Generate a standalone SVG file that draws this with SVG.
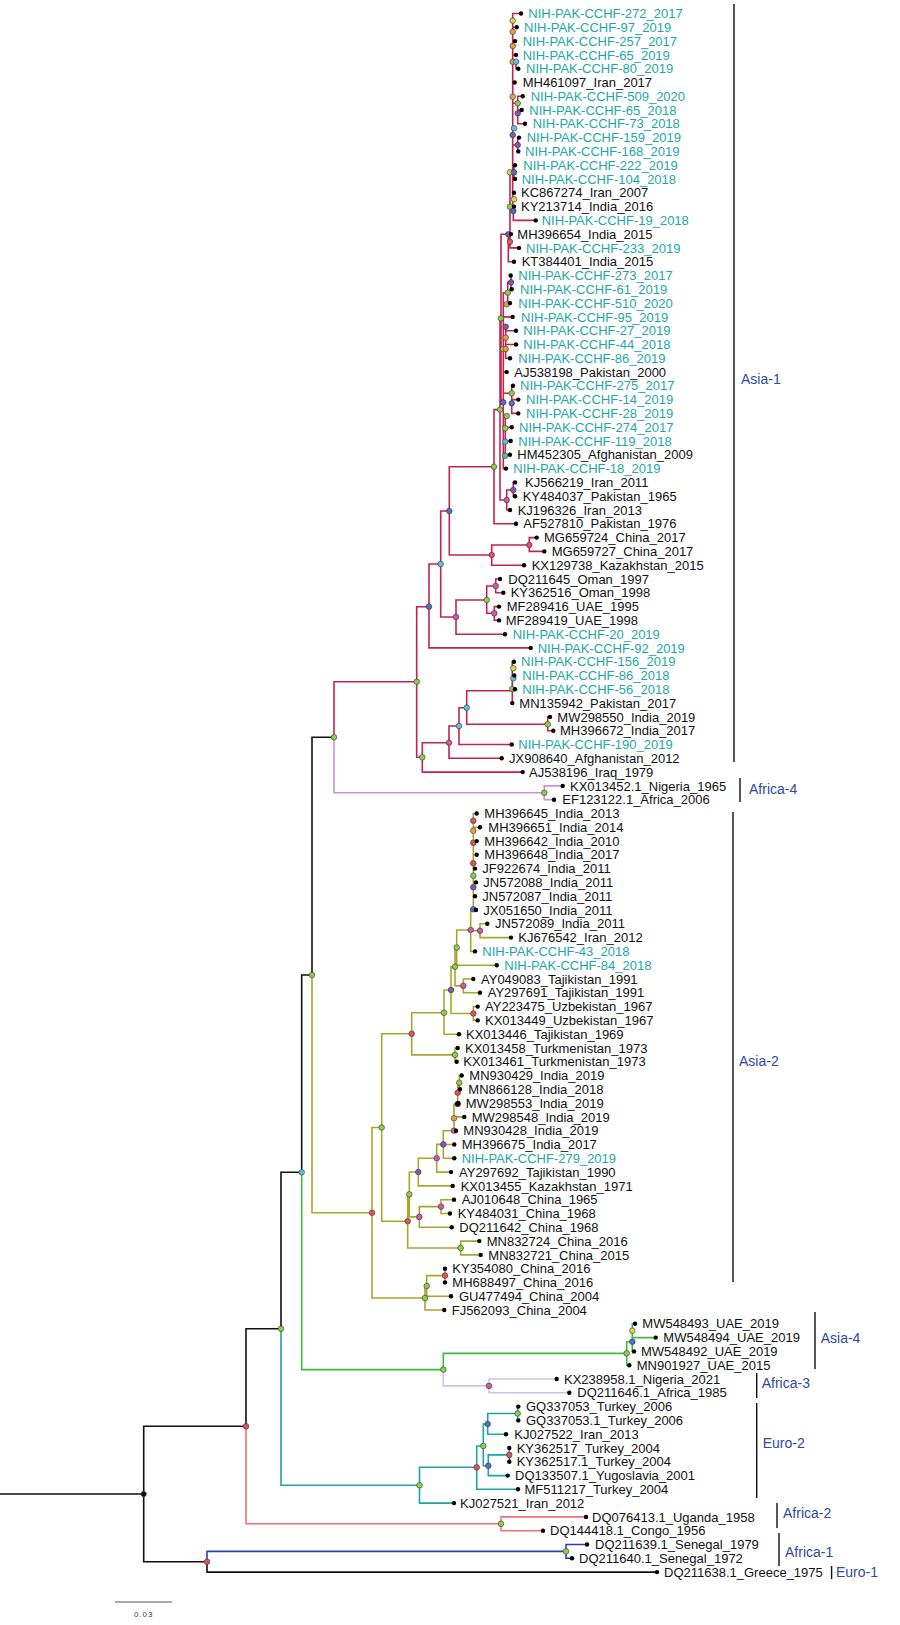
<svg xmlns="http://www.w3.org/2000/svg" width="900" height="1625" viewBox="0 0 900 1625">
<style>
.e{fill:none;stroke-width:1.6;stroke-linecap:square}
.k{stroke:#111}.cr{stroke:#c0254f}.ol{stroke:#a9a72b}.gr{stroke:#3dbd3d}.tl{stroke:#1fa3a3}.sa{stroke:#f27272}.bl{stroke:#2c3fb0}.vi{stroke:#cf8fd8}.lv{stroke:#c9c5ee}
.lf{fill:#000}
.n{stroke:#333;stroke-width:0.6}
.ny{fill:#d4d84a}.no{fill:#e0a050}.np{fill:#7a5cb5}.ng{fill:#8ccf4a}.nc{fill:#58c4e4}.nm{fill:#d05aa5}.nr{fill:#e5505f}.nb{fill:#5070c8}.nt{fill:#46c4a0}.nk{fill:#111}
text{font-family:"Liberation Sans",Arial,sans-serif}
.t{font-size:13px;fill:#111}.c{fill:#1ea8a3}
.lab{font-size:14px;fill:#2f4a9c}
.bar{stroke:#111;stroke-width:1.4}
</style>
<rect width="900" height="1625" fill="#fff"/>
<g id="connectors">
<path class="e k" d="M0 1494H143.7M143.7 1426.3V1561.75M143.7 1426.3H246M143.7 1561.75H207M207 1561.75V1572.1H657M246 1426.3V1328.75H281M281 1328.75V1172.3H301.7M301.7 1172.3V975H312M312 975V737.25H334"/>
<path class="e bl" d="M207 1561.75V1551.4H566M566 1544.5V1558.3M566 1544.5H587M566 1558.3H572"/>
<path class="e sa" d="M246 1426.3V1523.8H501M501 1516.9V1530.7M501 1516.9H586M501 1530.7H543"/>
<path class="e tl" d="M281 1328.75V1485.2H419.5M419.5 1467.3V1503.1M419.5 1467.3H476.7M419.5 1503.1H454M476.7 1446V1489.3M476.7 1446H483.3M476.7 1489.3H518M483.3 1424V1465.7M483.3 1424H487.7M483.3 1465.7H488.3M487.7 1413.5V1434.2M487.7 1413.5H517.7M487.7 1434.2H506M517.7 1406.6V1420.4M517.7 1406.6H518.3M517.7 1420.4H518.3M488.3 1454.9V1475.6M488.3 1454.9H509.3M488.3 1475.6H507.7M509.3 1448V1461.8"/>
<path class="e gr" d="M301.7 1172.3V1369.6H443.3M443.3 1369.6V1353.4H626.7M626.7 1341.7V1365.2M626.7 1341.7H632.3M626.7 1365.2H629.3M632.3 1323.8V1351.4M632.3 1323.8H635M632.3 1337.6H655.7M632.3 1351.4H634"/>
<path class="e lv" d="M443.3 1369.6V1385.9H489M489 1379V1392.8M489 1379H556.7M489 1392.8H569.3"/>
<path class="e vi" d="M334 737.25V792.8H544.3M544.3 785.9V799.7M544.3 785.9H562.7M544.3 799.7H554"/>
<path class="e cr" d="M334 737.25V681.7H416.7
M512.7 13.5V211M512.7 13.5H521M512.7 27.3H516.7M512.7 41.1H515M512.7 54.9H516M512.7 61.7H516V68.7H518.3M512.7 82.5H514.7M512.7 103.3H517.7M517.7 96.2V123.8M517.7 96.2H522.7M517.7 110H521.7M517.7 123.8H525M512.7 145H517.7M517.7 137.6V151.4M517.7 137.6H519M517.7 151.4H518.3M512.7 172.3H514M514 165.2V179M514 165.2H515M514 179H515M512.7 192.8H514M512.7 206.6H514M513.3 211V220.4H535.7M510 172.3V241.7M501 234.3H510M510 234.1H511M510 241.7V247.9H519M508.3 234.3V261.7H514
M501 234.3V404H503.3M503.3 292.7V468.6M503.3 292.7H507.7M507.7 282.3V303.1M507.7 282.3H511M511 275.5V289.3M511 289.3H511.7M507.7 303.1H510M503.3 316.9H512.7M503.3 326.7H505.7M505.7 326.7V358.3M505.7 330.7H516M505.7 344.5H516M505.7 358.3H510M503.3 372.1H506.7M503.3 393.3H511.7M511.7 385.8V413.4M511.7 385.8H513M511.7 399.6H518.3M511.7 413.4H518.3M503.3 428.3H505.3M505.3 416V454.8M505.3 427.2H511.7M505.3 441H510.7M505.3 454.8H510M503.3 468.6H506
M500 318.3V500M500 318.3H501M500 500H506.7M506.7 490V510M506.7 490H513.3M513.3 482.4V496.2M513.3 482.4H515M513.3 496.2H515M506.7 510H510
M494 409.6V523.8M494 409.6H500M494 523.8H516
M449.3 466.7V555M449.3 466.7H494M449.3 555H491.7
M491.7 545V565.2M491.7 545H529.3M529.3 537.6V551.4M529.3 537.6H536.7M529.3 551.4H544.3M491.7 565.2H524
M440.7 511V617M440.7 511H449.3M440.7 617H456
M456 600V634.2M456 600H486.7M456 634.2H505
M486.7 586V613.3M486.7 586H495.7M486.7 613.3H494.3
M495.7 579V592.8M495.7 579H500M495.7 592.8H503.3
M494.3 606.6V620.4M494.3 606.6H499M494.3 620.4H499
M429 564V647.9M429 564H440.7M429 647.9H530.7
M416.7 606.7V757.3M416.7 606.7H429M416.7 757.3H422.3
M422.3 742.7V772.1M422.3 742.7H449M422.3 772.1H522.7
M449 726V758.3M449 726H459M449 758.3H501.7
M459 707.7V744.5M459 707.7H466.7M459 744.5H511.7
M466.7 690.7V724.3M466.7 690.7H512.3M466.7 724.3H547.7
M547.7 716.9V730.7M547.7 716.9H550M547.7 730.7H553.3
M512.3 661.7V703.1M512.3 661.7H514M512.3 675.5H514.3M512.3 689.3H515"/>
<path class="e ol" d="M312 975V1212.75H372M372 1127.5V1298M372 1127.5H381.7M372 1298H425
M381.7 1033.8V1221.2M381.7 1033.8H411.7M381.7 1221.2H407.7
M411.7 1012.7V1054.9M411.7 1012.7H444M411.7 1054.9H455M455 1048V1061.7M455 1048H457.7M455 1061.7H456.7
M444 990V1034.2M444 990H451M444 1034.2H459
M451 966.7V1013.5M451 966.7H455M451 1013.5H473.3M473.3 1006.6V1020.4M473.3 1006.6H477.7M473.3 1020.4H477.7
M455 947.5V985.9M455 947.5H456.7M455 985.9H463.3M463.3 979V992.8M463.3 979H473.3M463.3 992.8H480
M456.7 930V965.2M456.7 930H470.7M456.7 965.2H496.7
M470.7 909.3V951.4M470.7 909.3H473.3M470.7 930.7H480M470.7 951.4H475M480 923.8V937.6M480 923.8H487.3M480 937.6H511
M473.3 813.5V909.3M473.3 813.5H476.7M473.3 827.3H480M473.3 841.1H476.7M473.3 854.8H476.7M473.3 868.6H475M473.3 882.4H476M473.3 896.2H475M473.3 910H476
M407.7 1194.4V1248M407.7 1194.4H409.3M407.7 1248H460.7M460.7 1241.1V1254.9M460.7 1241.1H479.3M460.7 1254.9H480.7
M409.3 1172V1216.9M409.3 1172H418.3M409.3 1216.9H419.3
M419.3 1206.6V1227.3M419.3 1206.6H441M419.3 1227.3H451.7M441 1199.7V1213.5M441 1199.7H454M441 1213.5H450
M418.3 1158.2V1185.9M418.3 1158.2H436.7M418.3 1185.9H452.7
M436.7 1144.4V1172.1M436.7 1144.4H443.3M436.7 1172.1H451
M443.3 1130.7V1158.3M443.3 1130.7H454M443.3 1144.5H454.3M443.3 1158.3H454.3
M454 1104V1130.7M454 1104H457.7M454 1116.9H464.3M454 1130.7H456
M457.7 1082.7V1104M457.7 1082.7H459.3M457.7 1103.1H458.3M459.3 1075.5V1089.3M459.3 1075.5H461.7M459.3 1089.3H460
M425 1286V1310M425 1286H426.7M425 1310H444.3M426.7 1275.6V1296.2M426.7 1275.6H445M426.7 1296.2H451M445 1268.7V1282.4"/>
</g>
<g id="internal-nodes" class="n">
<circle class="ny" cx="512.7" cy="20.7" r="2.8"/><circle class="no" cx="512.7" cy="31.7" r="2.8"/><circle class="no" cx="512.7" cy="46" r="2.8"/><circle class="no" cx="512.7" cy="61.7" r="2.8"/><circle class="nc" cx="516" cy="61.7" r="2.8"/><circle class="no" cx="512.7" cy="96.7" r="2.8"/><circle class="ng" cx="517.7" cy="103.3" r="2.8"/><circle class="np" cx="517.7" cy="113.3" r="2.8"/><circle class="nc" cx="514" cy="128.3" r="2.8"/><circle class="np" cx="512.7" cy="135" r="2.8"/><circle class="np" cx="517.7" cy="145" r="2.8"/><circle class="ny" cx="510" cy="172.3" r="2.8"/><circle class="nb" cx="514" cy="172.3" r="2.8"/><circle class="ny" cx="514" cy="199.3" r="2.8"/><circle class="ng" cx="510" cy="206.7" r="2.8"/><circle class="nb" cx="513.3" cy="211" r="2.8"/><circle class="np" cx="508.3" cy="234.3" r="2.8"/><circle class="nr" cx="510" cy="241.7" r="2.8"/>
<circle class="np" cx="511" cy="282.3" r="2.8"/><circle class="ng" cx="507.7" cy="292.7" r="2.8"/><circle class="no" cx="506.7" cy="304.3" r="2.8"/><circle class="ng" cx="501" cy="318.3" r="2.8"/><circle class="np" cx="505.7" cy="326.7" r="2.8"/><circle class="no" cx="505.7" cy="337.7" r="2.8"/><circle class="ny" cx="503.3" cy="349" r="2.8"/><circle class="no" cx="505.7" cy="349" r="2.8"/><circle class="ng" cx="511.7" cy="393.3" r="2.8"/><circle class="nb" cx="503.3" cy="402.3" r="2.8"/><circle class="nb" cx="511.7" cy="403.3" r="2.8"/>
<circle class="ng" cx="500" cy="409.6" r="2.8"/><circle class="ng" cx="506.7" cy="416" r="2.8"/><circle class="ng" cx="505.3" cy="428.3" r="2.8"/><circle class="nc" cx="505.3" cy="441.7" r="2.8"/><circle class="nt" cx="505" cy="455.7" r="2.8"/>
<circle class="ng" cx="494" cy="466.7" r="2.8"/><circle class="np" cx="513.3" cy="490" r="2.8"/><circle class="nm" cx="506.7" cy="500" r="2.8"/><circle class="nb" cx="449.3" cy="511" r="2.8"/>
<circle class="nr" cx="529.3" cy="545" r="2.8"/><circle class="nr" cx="491.7" cy="555" r="2.8"/><circle class="nc" cx="440.7" cy="564" r="2.8"/><circle class="nm" cx="495.7" cy="586" r="2.8"/><circle class="ng" cx="486.7" cy="600" r="2.8"/><circle class="nm" cx="494.3" cy="613.3" r="2.8"/><circle class="nm" cx="456" cy="617" r="2.8"/><circle class="nb" cx="429" cy="606.7" r="2.8"/>
<circle class="ny" cx="513.3" cy="668.3" r="2.8"/><circle class="nc" cx="513.3" cy="678.3" r="2.8"/><circle class="ng" cx="512.3" cy="689" r="2.8"/><circle class="ng" cx="416.7" cy="681.7" r="2.8"/><circle class="nc" cx="466.7" cy="707.7" r="2.8"/><circle class="ng" cx="547.7" cy="724.3" r="2.8"/><circle class="nc" cx="459" cy="726" r="2.8"/><circle class="nm" cx="449" cy="742.7" r="2.8"/><circle class="ng" cx="422.3" cy="757.3" r="2.8"/>
<circle class="ng" cx="334" cy="737.25" r="2.8"/><circle class="ng" cx="544.3" cy="792.8" r="2.8"/>
<circle class="nr" cx="473.3" cy="820.7" r="2.8"/><circle class="no" cx="473.3" cy="830.7" r="2.8"/><circle class="nr" cx="473.3" cy="842.7" r="2.8"/><circle class="nr" cx="473.3" cy="863.3" r="2.8"/><circle class="ng" cx="473.3" cy="875.7" r="2.8"/><circle class="np" cx="473.3" cy="887.3" r="2.8"/><circle class="nb" cx="473.3" cy="909.3" r="2.8"/><circle class="nm" cx="470.7" cy="930" r="2.8"/><circle class="nm" cx="480" cy="930.7" r="2.8"/><circle class="ng" cx="456.7" cy="947.5" r="2.8"/><circle class="ng" cx="455" cy="966.7" r="2.8"/><circle class="nm" cx="463.3" cy="985.9" r="2.8"/><circle class="np" cx="451" cy="990" r="2.8"/><circle class="nr" cx="473.3" cy="1013.5" r="2.8"/><circle class="ng" cx="444" cy="1012.7" r="2.8"/><circle class="nr" cx="411.7" cy="1033.8" r="2.8"/><circle class="ng" cx="455" cy="1054.9" r="2.8"/>
<circle class="ng" cx="459.3" cy="1082.7" r="2.8"/><circle class="nr" cx="457.7" cy="1092.7" r="2.8"/><circle class="nk" cx="457.7" cy="1104" r="2.8"/><circle class="no" cx="454" cy="1118.3" r="2.8"/><circle class="nm" cx="454" cy="1130.7" r="2.8"/><circle class="np" cx="443.3" cy="1144.4" r="2.8"/><circle class="nm" cx="436.7" cy="1158.2" r="2.8"/><circle class="np" cx="418.3" cy="1172" r="2.8"/><circle class="ng" cx="409.3" cy="1194.4" r="2.8"/><circle class="nm" cx="441" cy="1206.6" r="2.8"/><circle class="nm" cx="419.3" cy="1216.9" r="2.8"/><circle class="nr" cx="407.7" cy="1221.2" r="2.8"/><circle class="ng" cx="460.7" cy="1248" r="2.8"/>
<circle class="nr" cx="445" cy="1275.6" r="2.8"/><circle class="ng" cx="426.7" cy="1286" r="2.8"/><circle class="ng" cx="425" cy="1298" r="2.8"/>
<circle class="ng" cx="381.7" cy="1127.5" r="2.8"/><circle class="nr" cx="372" cy="1212.75" r="2.8"/><circle class="ng" cx="312" cy="975" r="2.8"/>
<circle class="ny" cx="632.3" cy="1330.7" r="2.8"/><circle class="nb" cx="632.3" cy="1341.7" r="2.8"/><circle class="ng" cx="626.7" cy="1353.4" r="2.8"/><circle class="ng" cx="443.3" cy="1369.6" r="2.8"/><circle class="nm" cx="489" cy="1385.9" r="2.8"/>
<circle class="ng" cx="517.7" cy="1413.5" r="2.8"/><circle class="nb" cx="487.7" cy="1424" r="2.8"/><circle class="ng" cx="483.3" cy="1446" r="2.8"/><circle class="nr" cx="509.3" cy="1454.9" r="2.8"/><circle class="nb" cx="488.3" cy="1465.7" r="2.8"/><circle class="nr" cx="476.7" cy="1467.3" r="2.8"/><circle class="ng" cx="419.5" cy="1485.2" r="2.8"/>
<circle class="nc" cx="301.7" cy="1172.3" r="2.8"/><circle class="ng" cx="281" cy="1328.75" r="2.8"/><circle class="nr" cx="246" cy="1426.3" r="2.8"/><circle class="nk" cx="143.7" cy="1494" r="2.6"/><circle class="nr" cx="207" cy="1561.75" r="2.8"/><circle class="ng" cx="501" cy="1523.8" r="2.8"/><circle class="ng" cx="566" cy="1551.4" r="2.8"/>
</g>
<g id="leaves">
<g id="L1"><circle class="lf" cx="521" cy="13.5" r="2.2"/><text class="t c" x="528.3" y="18.1">NIH-PAK-CCHF-272_2017</text></g>
<g id="L2"><circle class="lf" cx="516.7" cy="27.3" r="2.2"/><text class="t c" x="524" y="31.9">NIH-PAK-CCHF-97_2019</text></g>
<g id="L3"><circle class="lf" cx="515" cy="41.1" r="2.2"/><text class="t c" x="522.7" y="45.7">NIH-PAK-CCHF-257_2017</text></g>
<g id="L4"><circle class="lf" cx="516" cy="54.9" r="2.2"/><text class="t c" x="522.7" y="59.5">NIH-PAK-CCHF-65_2019</text></g>
<g id="L5"><circle class="lf" cx="518.3" cy="68.7" r="2.2"/><text class="t c" x="526" y="73.3">NIH-PAK-CCHF-80_2019</text></g>
<g id="L6"><circle class="lf" cx="514.7" cy="82.5" r="2.2"/><text class="t" x="522.7" y="87.1">MH461097_Iran_2017</text></g>
<g id="L7"><circle class="lf" cx="522.7" cy="96.2" r="2.2"/><text class="t c" x="530.7" y="100.8">NIH-PAK-CCHF-509_2020</text></g>
<g id="L8"><circle class="lf" cx="521.7" cy="110" r="2.2"/><text class="t c" x="529.3" y="114.6">NIH-PAK-CCHF-65_2018</text></g>
<g id="L9"><circle class="lf" cx="525" cy="123.8" r="2.2"/><text class="t c" x="532.7" y="128.4">NIH-PAK-CCHF-73_2018</text></g>
<g id="L10"><circle class="lf" cx="519" cy="137.6" r="2.2"/><text class="t c" x="526.7" y="142.2">NIH-PAK-CCHF-159_2019</text></g>
<g id="L11"><circle class="lf" cx="518.3" cy="151.4" r="2.2"/><text class="t c" x="525" y="156">NIH-PAK-CCHF-168_2019</text></g>
<g id="L12"><circle class="lf" cx="515" cy="165.2" r="2.2"/><text class="t c" x="523.3" y="169.8">NIH-PAK-CCHF-222_2019</text></g>
<g id="L13"><circle class="lf" cx="515" cy="179" r="2.2"/><text class="t c" x="521.7" y="183.6">NIH-PAK-CCHF-104_2018</text></g>
<g id="L14"><circle class="lf" cx="514" cy="192.8" r="2.2"/><text class="t" x="521" y="197.4">KC867274_Iran_2007</text></g>
<g id="L15"><circle class="lf" cx="514" cy="206.6" r="2.2"/><text class="t" x="521" y="211.2">KY213714_India_2016</text></g>
<g id="L16"><circle class="lf" cx="535.7" cy="220.4" r="2.2"/><text class="t c" x="541.7" y="225">NIH-PAK-CCHF-19_2018</text></g>
<g id="L17"><circle class="lf" cx="511" cy="234.1" r="2.2"/><text class="t" x="517.3" y="238.7">MH396654_India_2015</text></g>
<g id="L18"><circle class="lf" cx="519" cy="247.9" r="2.2"/><text class="t c" x="526" y="252.5">NIH-PAK-CCHF-233_2019</text></g>
<g id="L19"><circle class="lf" cx="514" cy="261.7" r="2.2"/><text class="t" x="521.7" y="266.3">KT384401_India_2015</text></g>
<g id="L20"><circle class="lf" cx="510.7" cy="275.5" r="2.2"/><text class="t c" x="518.3" y="280.1">NIH-PAK-CCHF-273_2017</text></g>
<g id="L21"><circle class="lf" cx="511.7" cy="289.3" r="2.2"/><text class="t c" x="520" y="293.9">NIH-PAK-CCHF-61_2019</text></g>
<g id="L22"><circle class="lf" cx="510" cy="303.1" r="2.2"/><text class="t c" x="518.3" y="307.7">NIH-PAK-CCHF-510_2020</text></g>
<g id="L23"><circle class="lf" cx="512.7" cy="316.9" r="2.2"/><text class="t c" x="521" y="321.5">NIH-PAK-CCHF-95_2019</text></g>
<g id="L24"><circle class="lf" cx="516" cy="330.7" r="2.2"/><text class="t c" x="523.3" y="335.3">NIH-PAK-CCHF-27_2019</text></g>
<g id="L25"><circle class="lf" cx="516" cy="344.5" r="2.2"/><text class="t c" x="523.3" y="349.1">NIH-PAK-CCHF-44_2018</text></g>
<g id="L26"><circle class="lf" cx="510" cy="358.3" r="2.2"/><text class="t c" x="518.3" y="362.9">NIH-PAK-CCHF-86_2019</text></g>
<g id="L27"><circle class="lf" cx="506.7" cy="372.1" r="2.2"/><text class="t" x="514.3" y="376.7">AJ538198_Pakistan_2000</text></g>
<g id="L28"><circle class="lf" cx="513" cy="385.8" r="2.2"/><text class="t c" x="520" y="390.4">NIH-PAK-CCHF-275_2017</text></g>
<g id="L29"><circle class="lf" cx="518.3" cy="399.6" r="2.2"/><text class="t c" x="526" y="404.2">NIH-PAK-CCHF-14_2019</text></g>
<g id="L30"><circle class="lf" cx="518.3" cy="413.4" r="2.2"/><text class="t c" x="526" y="418">NIH-PAK-CCHF-28_2019</text></g>
<g id="L31"><circle class="lf" cx="511.7" cy="427.2" r="2.2"/><text class="t c" x="519" y="431.8">NIH-PAK-CCHF-274_2017</text></g>
<g id="L32"><circle class="lf" cx="510.7" cy="441" r="2.2"/><text class="t c" x="518.3" y="445.6">NIH-PAK-CCHF-119_2018</text></g>
<g id="L33"><circle class="lf" cx="510" cy="454.8" r="2.2"/><text class="t" x="517.3" y="459.4">HM452305_Afghanistan_2009</text></g>
<g id="L34"><circle class="lf" cx="506" cy="468.6" r="2.2"/><text class="t c" x="513.3" y="473.2">NIH-PAK-CCHF-18_2019</text></g>
<g id="L35"><circle class="lf" cx="515" cy="482.4" r="2.2"/><text class="t" x="525" y="487">KJ566219_Iran_2011</text></g>
<g id="L36"><circle class="lf" cx="515" cy="496.2" r="2.2"/><text class="t" x="522.7" y="500.8">KY484037_Pakistan_1965</text></g>
<g id="L37"><circle class="lf" cx="510" cy="510" r="2.2"/><text class="t" x="517.7" y="514.6">KJ196326_Iran_2013</text></g>
<g id="L38"><circle class="lf" cx="516" cy="523.8" r="2.2"/><text class="t" x="523.3" y="528.4">AF527810_Pakistan_1976</text></g>
<g id="L39"><circle class="lf" cx="536.7" cy="537.6" r="2.2"/><text class="t" x="544" y="542.2">MG659724_China_2017</text></g>
<g id="L40"><circle class="lf" cx="544.3" cy="551.4" r="2.2"/><text class="t" x="551.7" y="556">MG659727_China_2017</text></g>
<g id="L41"><circle class="lf" cx="524" cy="565.2" r="2.2"/><text class="t" x="531.7" y="569.8">KX129738_Kazakhstan_2015</text></g>
<g id="L42"><circle class="lf" cx="500" cy="579" r="2.2"/><text class="t" x="508.3" y="583.6">DQ211645_Oman_1997</text></g>
<g id="L43"><circle class="lf" cx="503.3" cy="592.8" r="2.2"/><text class="t" x="510.7" y="597.4">KY362516_Oman_1998</text></g>
<g id="L44"><circle class="lf" cx="499" cy="606.6" r="2.2"/><text class="t" x="506.7" y="611.2">MF289416_UAE_1995</text></g>
<g id="L45"><circle class="lf" cx="499" cy="620.4" r="2.2"/><text class="t" x="505.7" y="625">MF289419_UAE_1998</text></g>
<g id="L46"><circle class="lf" cx="505" cy="634.2" r="2.2"/><text class="t c" x="512.7" y="638.8">NIH-PAK-CCHF-20_2019</text></g>
<g id="L47"><circle class="lf" cx="530.7" cy="647.9" r="2.2"/><text class="t c" x="537.7" y="652.5">NIH-PAK-CCHF-92_2019</text></g>
<g id="L48"><circle class="lf" cx="514" cy="661.7" r="2.2"/><text class="t c" x="521" y="666.3">NIH-PAK-CCHF-156_2019</text></g>
<g id="L49"><circle class="lf" cx="514.3" cy="675.5" r="2.2"/><text class="t c" x="522.3" y="680.1">NIH-PAK-CCHF-86_2018</text></g>
<g id="L50"><circle class="lf" cx="515" cy="689.3" r="2.2"/><text class="t c" x="522.3" y="693.9">NIH-PAK-CCHF-56_2018</text></g>
<g id="L51"><circle class="lf" cx="512.3" cy="703.1" r="2.2"/><text class="t" x="519.3" y="707.7">MN135942_Pakistan_2017</text></g>
<g id="L52"><circle class="lf" cx="550" cy="716.9" r="2.2"/><text class="t" x="557.3" y="721.5">MW298550_India_2019</text></g>
<g id="L53"><circle class="lf" cx="553.3" cy="730.7" r="2.2"/><text class="t" x="560" y="735.3">MH396672_India_2017</text></g>
<g id="L54"><circle class="lf" cx="511.7" cy="744.5" r="2.2"/><text class="t c" x="518.3" y="749.1">NIH-PAK-CCHF-190_2019</text></g>
<g id="L55"><circle class="lf" cx="501.7" cy="758.3" r="2.2"/><text class="t" x="509" y="762.9">JX908640_Afghanistan_2012</text></g>
<g id="L56"><circle class="lf" cx="522.7" cy="772.1" r="2.2"/><text class="t" x="529" y="776.7">AJ538196_Iraq_1979</text></g>
<g id="L57"><circle class="lf" cx="562.7" cy="785.9" r="2.2"/><text class="t" x="570" y="790.5">KX013452.1_Nigeria_1965</text></g>
<g id="L58"><circle class="lf" cx="554" cy="799.7" r="2.2"/><text class="t" x="562.3" y="804.3">EF123122.1_Africa_2006</text></g>
<g id="L59"><circle class="lf" cx="476.7" cy="813.5" r="2.2"/><text class="t" x="484.3" y="818.1">MH396645_India_2013</text></g>
<g id="L60"><circle class="lf" cx="480" cy="827.3" r="2.2"/><text class="t" x="488.3" y="831.9">MH396651_India_2014</text></g>
<g id="L61"><circle class="lf" cx="476.7" cy="841.1" r="2.2"/><text class="t" x="484.3" y="845.7">MH396642_India_2010</text></g>
<g id="L62"><circle class="lf" cx="476.7" cy="854.8" r="2.2"/><text class="t" x="484.3" y="859.4">MH396648_India_2017</text></g>
<g id="L63"><circle class="lf" cx="475" cy="868.6" r="2.2"/><text class="t" x="482.3" y="873.2">JF922674_India_2011</text></g>
<g id="L64"><circle class="lf" cx="476" cy="882.4" r="2.2"/><text class="t" x="483.3" y="887">JN572088_India_2011</text></g>
<g id="L65"><circle class="lf" cx="475" cy="896.2" r="2.2"/><text class="t" x="482.3" y="900.8">JN572087_India_2011</text></g>
<g id="L66"><circle class="lf" cx="476" cy="910" r="2.2"/><text class="t" x="483.3" y="914.6">JX051650_India_2011</text></g>
<g id="L67"><circle class="lf" cx="487.3" cy="923.8" r="2.2"/><text class="t" x="495" y="928.4">JN572089_India_2011</text></g>
<g id="L68"><circle class="lf" cx="511" cy="937.6" r="2.2"/><text class="t" x="518.3" y="942.2">KJ676542_Iran_2012</text></g>
<g id="L69"><circle class="lf" cx="475" cy="951.4" r="2.2"/><text class="t c" x="482.3" y="956">NIH-PAK-CCHF-43_2018</text></g>
<g id="L70"><circle class="lf" cx="496.7" cy="965.2" r="2.2"/><text class="t c" x="504.3" y="969.8">NIH-PAK-CCHF-84_2018</text></g>
<g id="L71"><circle class="lf" cx="473.3" cy="979" r="2.2"/><text class="t" x="481" y="983.6">AY049083_Tajikistan_1991</text></g>
<g id="L72"><circle class="lf" cx="480" cy="992.8" r="2.2"/><text class="t" x="487.7" y="997.4">AY297691_Tajikistan_1991</text></g>
<g id="L73"><circle class="lf" cx="477.7" cy="1006.6" r="2.2"/><text class="t" x="485" y="1011.2">AY223475_Uzbekistan_1967</text></g>
<g id="L74"><circle class="lf" cx="477.7" cy="1020.4" r="2.2"/><text class="t" x="485" y="1025">KX013449_Uzbekistan_1967</text></g>
<g id="L75"><circle class="lf" cx="459" cy="1034.2" r="2.2"/><text class="t" x="466" y="1038.8">KX013446_Tajikistan_1969</text></g>
<g id="L76"><circle class="lf" cx="457.7" cy="1048" r="2.2"/><text class="t" x="465" y="1052.6">KX013458_Turkmenistan_1973</text></g>
<g id="L77"><circle class="lf" cx="456.7" cy="1061.7" r="2.2"/><text class="t" x="463.3" y="1066.3">KX013461_Turkmenistan_1973</text></g>
<g id="L78"><circle class="lf" cx="461.7" cy="1075.5" r="2.2"/><text class="t" x="469.3" y="1080.1">MN930429_India_2019</text></g>
<g id="L79"><circle class="lf" cx="460" cy="1089.3" r="2.2"/><text class="t" x="468.3" y="1093.9">MN866128_India_2018</text></g>
<g id="L80"><circle class="lf" cx="458.3" cy="1103.1" r="2.2"/><text class="t" x="465.7" y="1107.7">MW298553_India_2019</text></g>
<g id="L81"><circle class="lf" cx="464.3" cy="1116.9" r="2.2"/><text class="t" x="471.7" y="1121.5">MW298548_India_2019</text></g>
<g id="L82"><circle class="lf" cx="456" cy="1130.7" r="2.2"/><text class="t" x="463.3" y="1135.3">MN930428_India_2019</text></g>
<g id="L83"><circle class="lf" cx="454.3" cy="1144.5" r="2.2"/><text class="t" x="461.7" y="1149.1">MH396675_India_2017</text></g>
<g id="L84"><circle class="lf" cx="454.3" cy="1158.3" r="2.2"/><text class="t c" x="461.7" y="1162.9">NIH-PAK-CCHF-279_2019</text></g>
<g id="L85"><circle class="lf" cx="451" cy="1172.1" r="2.2"/><text class="t" x="459" y="1176.7">AY297692_Tajikistan_1990</text></g>
<g id="L86"><circle class="lf" cx="452.7" cy="1185.9" r="2.2"/><text class="t" x="460.7" y="1190.5">KX013455_Kazakhstan_1971</text></g>
<g id="L87"><circle class="lf" cx="454" cy="1199.7" r="2.2"/><text class="t" x="461.7" y="1204.3">AJ010648_China_1965</text></g>
<g id="L88"><circle class="lf" cx="450" cy="1213.5" r="2.2"/><text class="t" x="457.7" y="1218.1">KY484031_China_1968</text></g>
<g id="L89"><circle class="lf" cx="451.7" cy="1227.3" r="2.2"/><text class="t" x="459.3" y="1231.9">DQ211642_China_1968</text></g>
<g id="L90"><circle class="lf" cx="479.3" cy="1241.1" r="2.2"/><text class="t" x="486.7" y="1245.7">MN832724_China_2016</text></g>
<g id="L91"><circle class="lf" cx="480.7" cy="1254.9" r="2.2"/><text class="t" x="488.3" y="1259.5">MN832721_China_2015</text></g>
<g id="L92"><circle class="lf" cx="445" cy="1268.7" r="2.2"/><text class="t" x="452.3" y="1273.3">KY354080_China_2016</text></g>
<g id="L93"><circle class="lf" cx="445" cy="1282.4" r="2.2"/><text class="t" x="452.3" y="1287">MH688497_China_2016</text></g>
<g id="L94"><circle class="lf" cx="451" cy="1296.2" r="2.2"/><text class="t" x="459" y="1300.8">GU477494_China_2004</text></g>
<g id="L95"><circle class="lf" cx="444.3" cy="1310" r="2.2"/><text class="t" x="451.7" y="1314.6">FJ562093_China_2004</text></g>
<g id="L96"><circle class="lf" cx="635" cy="1323.8" r="2.2"/><text class="t" x="642.3" y="1328.4">MW548493_UAE_2019</text></g>
<g id="L97"><circle class="lf" cx="655.7" cy="1337.6" r="2.2"/><text class="t" x="663.3" y="1342.2">MW548494_UAE_2019</text></g>
<g id="L98"><circle class="lf" cx="634" cy="1351.4" r="2.2"/><text class="t" x="641" y="1356">MW548492_UAE_2019</text></g>
<g id="L99"><circle class="lf" cx="629.3" cy="1365.2" r="2.2"/><text class="t" x="636.7" y="1369.8">MN901927_UAE_2015</text></g>
<g id="L100"><circle class="lf" cx="556.7" cy="1379" r="2.2"/><text class="t" x="564" y="1383.6">KX238958.1_Nigeria_2021</text></g>
<g id="L101"><circle class="lf" cx="569.3" cy="1392.8" r="2.2"/><text class="t" x="577.3" y="1397.4">DQ211646.1_Africa_1985</text></g>
<g id="L102"><circle class="lf" cx="518.3" cy="1406.6" r="2.2"/><text class="t" x="526" y="1411.2">GQ337053_Turkey_2006</text></g>
<g id="L103"><circle class="lf" cx="518.3" cy="1420.4" r="2.2"/><text class="t" x="526" y="1425">GQ337053.1_Turkey_2006</text></g>
<g id="L104"><circle class="lf" cx="506" cy="1434.2" r="2.2"/><text class="t" x="514.3" y="1438.8">KJ027522_Iran_2013</text></g>
<g id="L105"><circle class="lf" cx="509.3" cy="1448" r="2.2"/><text class="t" x="516.7" y="1452.6">KY362517_Turkey_2004</text></g>
<g id="L106"><circle class="lf" cx="509.3" cy="1461.8" r="2.2"/><text class="t" x="516.7" y="1466.4">KY362517.1_Turkey_2004</text></g>
<g id="L107"><circle class="lf" cx="507.7" cy="1475.6" r="2.2"/><text class="t" x="515" y="1480.2">DQ133507.1_Yugoslavia_2001</text></g>
<g id="L108"><circle class="lf" cx="518" cy="1489.3" r="2.2"/><text class="t" x="524.5" y="1493.9">MF511217_Turkey_2004</text></g>
<g id="L109"><circle class="lf" cx="454" cy="1503.1" r="2.2"/><text class="t" x="460" y="1507.7">KJ027521_Iran_2012</text></g>
<g id="L110"><circle class="lf" cx="586" cy="1516.9" r="2.2"/><text class="t" x="592" y="1521.5">DQ076413.1_Uganda_1958</text></g>
<g id="L111"><circle class="lf" cx="543" cy="1530.7" r="2.2"/><text class="t" x="550" y="1535.3">DQ144418.1_Congo_1956</text></g>
<g id="L112"><circle class="lf" cx="587" cy="1544.5" r="2.2"/><text class="t" x="595" y="1549.1">DQ211639.1_Senegal_1979</text></g>
<g id="L113"><circle class="lf" cx="572" cy="1558.3" r="2.2"/><text class="t" x="579" y="1562.9">DQ211640.1_Senegal_1972</text></g>
<g id="L114"><circle class="lf" cx="657" cy="1572.1" r="2.2"/><text class="t" x="664" y="1576.7">DQ211638.1_Greece_1975</text></g>
</g>
<g id="clades">
<g id="clade-asia1"><line class="bar" x1="734" y1="4" x2="734" y2="762"/><text class="lab" x="741" y="384.3">Asia-1</text></g>
<g id="clade-africa4"><line class="bar" x1="740" y1="778" x2="740" y2="802"/><text class="lab" x="749" y="794.3">Africa-4</text></g>
<g id="clade-asia2"><line class="bar" x1="733" y1="812" x2="733" y2="1282"/><text class="lab" x="739" y="1066">Asia-2</text></g>
<g id="clade-asia4"><line class="bar" x1="815" y1="1312" x2="815" y2="1369"/><text class="lab" x="820.7" y="1343.3">Asia-4</text></g>
<g id="clade-africa3"><line class="bar" x1="756.7" y1="1373" x2="756.7" y2="1398"/><text class="lab" x="761.7" y="1387.7">Africa-3</text></g>
<g id="clade-euro2"><line class="bar" x1="756.7" y1="1403" x2="756.7" y2="1498"/><text class="lab" x="762.7" y="1447.7">Euro-2</text></g>
<g id="clade-africa2"><line class="bar" x1="777" y1="1503" x2="777" y2="1528"/><text class="lab" x="783" y="1518.3">Africa-2</text></g>
<g id="clade-africa1"><line class="bar" x1="779" y1="1533" x2="779" y2="1566"/><text class="lab" x="785" y="1556.7">Africa-1</text></g>
<g id="clade-euro1"><line class="bar" x1="831.6" y1="1566" x2="831.6" y2="1579"/><text class="lab" x="836" y="1576.7">Euro-1</text></g>
</g>
<g id="scale">
<line x1="115" y1="1602" x2="172" y2="1602" stroke="#555" stroke-width="1"/>
<text x="143.7" y="1617" font-size="8" fill="#444" text-anchor="middle" letter-spacing="1">0.03</text>
</g>
</svg>
